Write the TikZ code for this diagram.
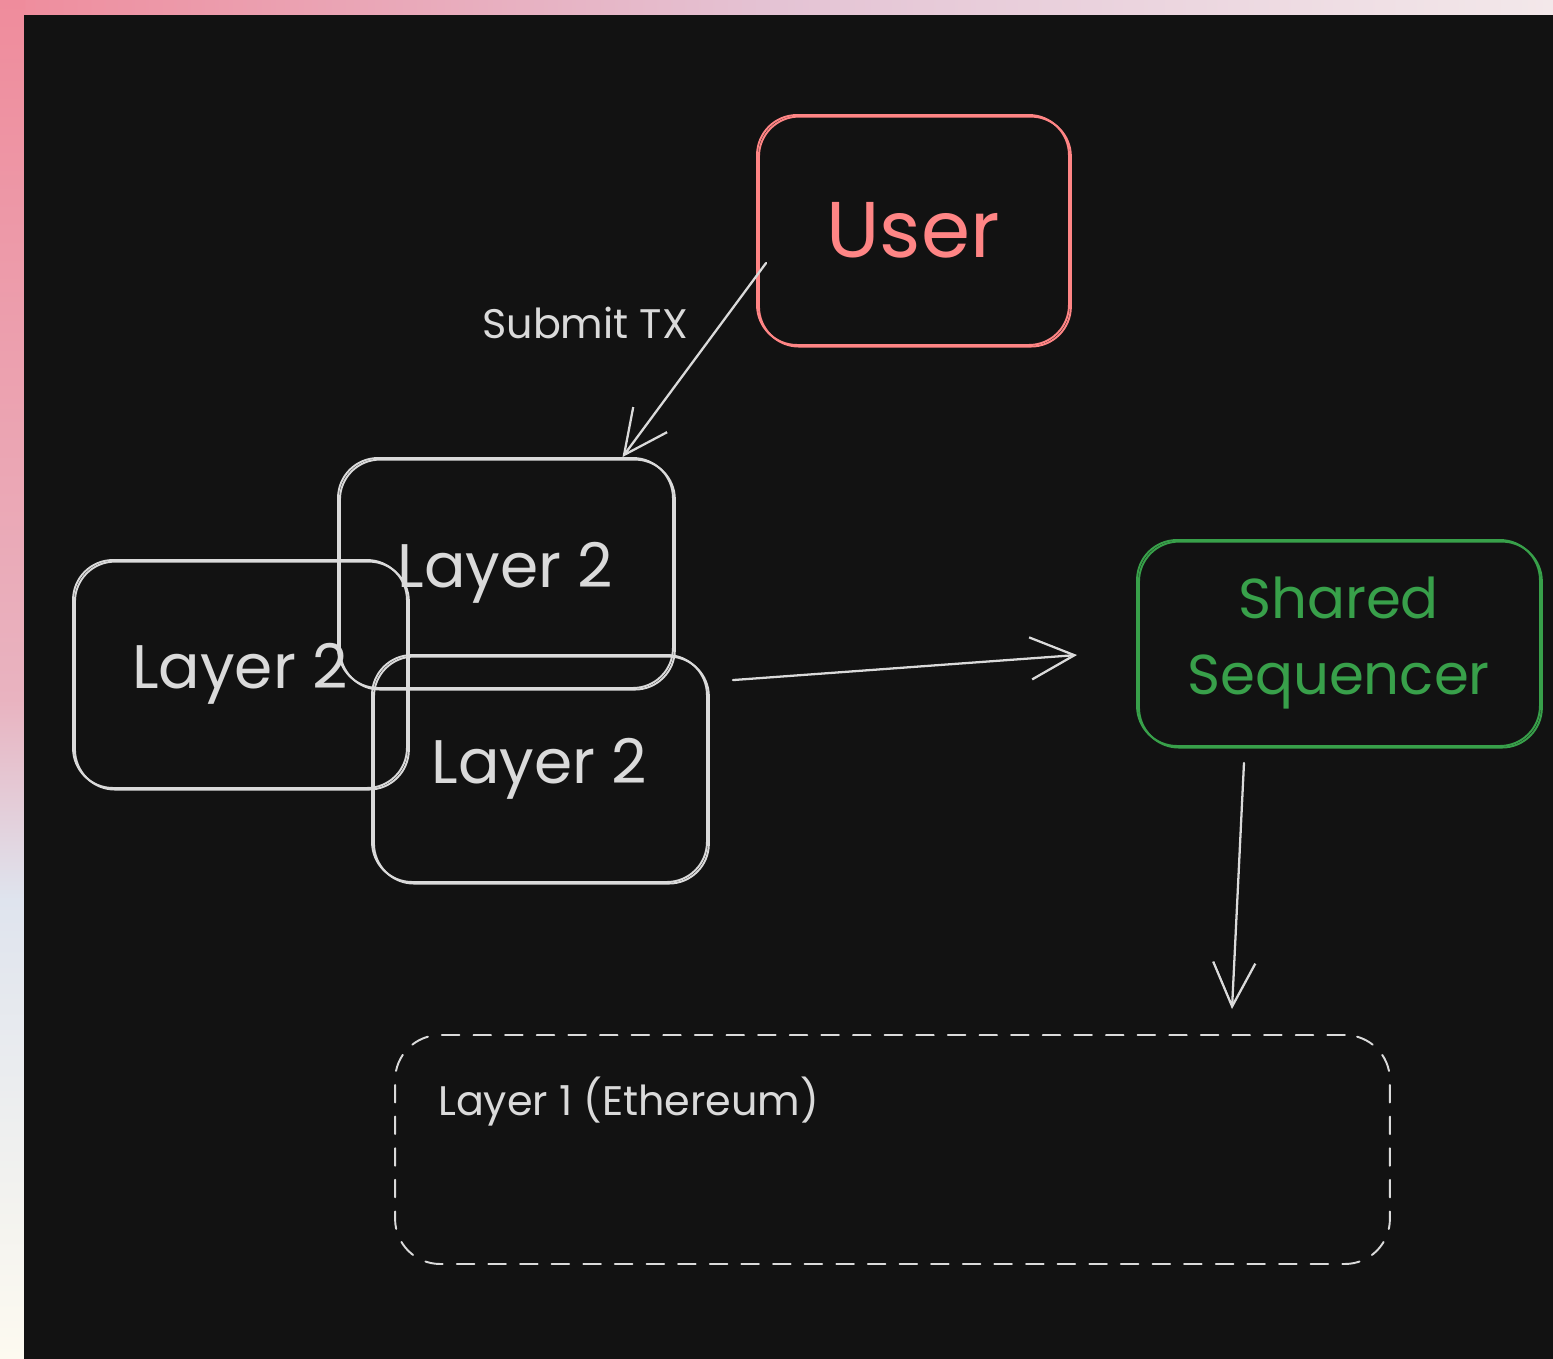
\documentclass[tikz,border=0pt]{standalone}
\usepackage{fontspec}
\setmainfont{Poppins}
\usetikzlibrary{arrows.meta,calc}

\definecolor{panel}{HTML}{121212}
\definecolor{inkwhite}{HTML}{DADADA}
\definecolor{inkred}{HTML}{FF8585}
\definecolor{inkgreen}{HTML}{38A04A}
\definecolor{bgpink}{HTML}{EF8C9C}
\definecolor{bgmauve}{HTML}{E4C3D4}
\definecolor{bglight}{HTML}{F3E8EA}
\definecolor{bgmid}{HTML}{E9B3C0}
\definecolor{bgblue}{HTML}{DFE4EE}
\definecolor{bgcream}{HTML}{FDFAF0}

\begin{document}
\begin{tikzpicture}[x=0.02cm,y=-0.02cm,
  sketch/.style={line width=1.1pt, line cap=round, line join=round,
    preaction={draw, transform canvas={shift={(1.1pt,-0.9pt)}}}},
  box/.style={sketch, draw, rectangle, rounded corners=0.8cm, inner sep=0pt, align=center},
  bigtext/.style={font=\fontsize{35}{44}\selectfont},
  smalltext/.style={font=\fontsize{23.5}{28}\selectfont},
  link/.style={draw=inkwhite, line width=1.3pt, line cap=round,
    preaction={draw, transform canvas={shift={(0.6pt,0.5pt)}}},
    -{Straight Barb[length=25pt, width=24pt, line width=1.3pt]}}
]
% backdrop behind the dark panel
\useasboundingbox (0,0) rectangle (1553,1359);
\shade[left color=bgpink, right color=bglight, middle color=bgmauve] (0,0) rectangle (1553,16);
\shade[top color=bgpink, bottom color=bgmid] (0,0) rectangle (25,700);
\shade[top color=bgmid, bottom color=bgblue] (0,699) rectangle (25,900);
\shade[top color=bgblue, bottom color=bgcream] (0,899) rectangle (25,1359);
\fill[panel] (24,15) rectangle (1553,1359);

% user
\node[box, draw=inkred, text=inkred, minimum width=6.24cm, minimum height=4.6cm,
      font=\fontsize{45}{50}\selectfont] (user) at (913,230) {User};

% stacked layer-2 rollups
\node[box, draw=inkwhite, text=inkwhite, bigtext, minimum width=6.7cm, minimum height=4.6cm]
  (l2a) at (505.5,573) {Layer 2};
\node[box, draw=inkwhite, text=inkwhite, bigtext, minimum width=6.68cm, minimum height=4.56cm]
  (l2b) at (240,674) {Layer 2};
\node[box, draw=inkwhite, text=inkwhite, bigtext, minimum width=6.7cm, minimum height=4.54cm]
  (l2c) at (539.5,768.5) {Layer 2};

% sequencer
\node[box, draw=inkgreen, text=inkgreen, font=\fontsize{32}{43}\selectfont,
      minimum width=8.06cm, minimum height=4.12cm]
  (seq) at (1338.5,643) {Shared\\Sequencer};

% settlement layer
\node[draw=inkwhite, line width=1.1pt, dash pattern=on 10pt off 8pt, line cap=round,
      rounded corners=0.9cm, minimum width=19.9cm, minimum height=4.58cm]
  (l1) at (892.5,1149.5) {};
\node[text=inkwhite, smalltext, anchor=west] (l1lbl) at (432,1102) {Layer 1 (Ethereum)};

% flows
\node[text=inkwhite, smalltext] (submit) at (585,323) {Submit TX};
\draw[link] ($(user.west)+(10,33)$) -- ($(l2a.north)+(117,0)$);
\draw[link] ($(l2c.north east)+(25,26)$) -- ($(seq.west)+(-59,12)$);
\draw[link] ($(seq.south)+(-94.5,16)$) -- ($(l1.north)+(339.5,-25)$);
\end{tikzpicture}
\end{document}
